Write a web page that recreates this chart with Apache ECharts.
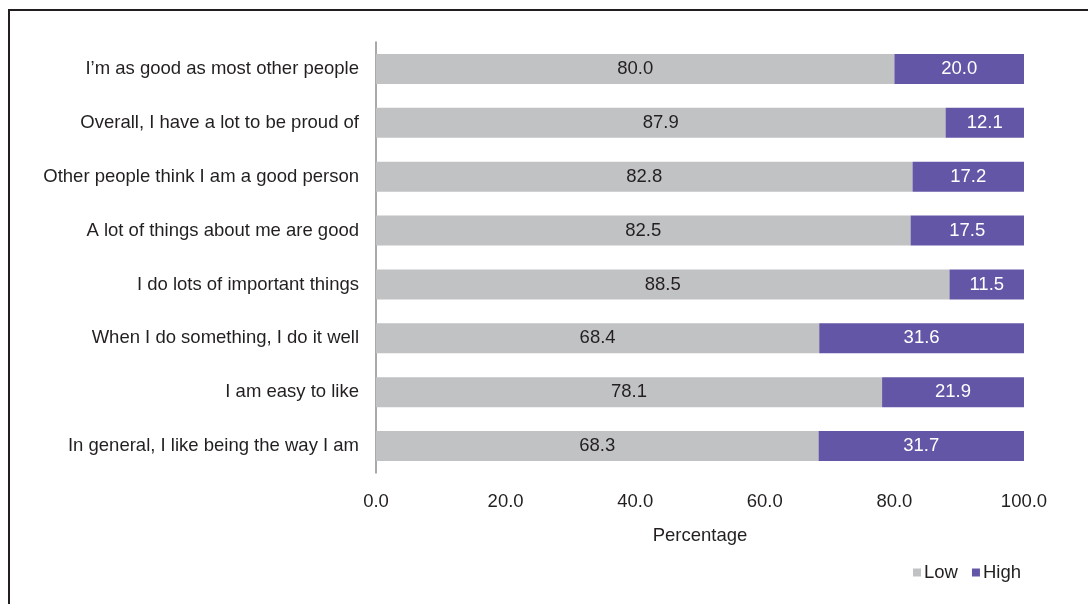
<!DOCTYPE html>
<html>
<head>
<meta charset="utf-8">
<script src="https://cdn.jsdelivr.net/npm/echarts@6/dist/echarts.min.js"></script>
<style>
  html, body { margin: 0; padding: 0; background: #fff; }
  #chart { width: 1088px; height: 604px; }
</style>
</head>
<body>
<div id="chart"></div>
<script>
// Self-esteem statements, listed bottom to top as the category axis draws them
const categories = [
  'In general, I like being the way I am',
  'I am easy to like',
  'When I do something, I do it well',
  'I do lots of important things',
  'A lot of things about me are good',
  'Other people think I am a good person',
  'Overall, I have a lot to be proud of',
  'I\u2019m as good as most other people'
];
const lowValues  = [68.3, 78.1, 68.4, 88.5, 82.5, 82.8, 87.9, 80.0];
const highValues = [31.7, 21.9, 31.6, 11.5, 17.5, 17.2, 12.1, 20.0];
const xTicks = [0, 20, 40, 60, 80, 100];

const FONT = '"Liberation Sans", Arial, sans-serif';
const SIZE = 18.5;
const INK = '#231f20';
const chart = echarts.init(document.getElementById('chart'), null, { renderer: 'canvas' });

chart.setOption({
  backgroundColor: '#ffffff',
  animation: false,
  textStyle: { fontFamily: FONT },
  graphic: [{
    type: 'polyline',
    shape: { points: [[9, 604], [9, 10], [1088, 10]] },
    style: { stroke: INK, lineWidth: 2, fill: null }
  }],
  legend: {
    right: 62,
    bottom: 17,
    itemWidth: 8,
    itemHeight: 8,
    itemGap: 14,
    icon: 'rect',
    textStyle: { fontFamily: FONT, fontSize: SIZE, color: INK, padding: [0, 0, 0, -2] },
    data: ['Low', 'High']
  },
  grid: { left: 376, right: 64, top: 42, height: 431, containLabel: false },
  xAxis: {
    type: 'value',
    min: xTicks[0],
    max: xTicks[xTicks.length - 1],
    interval: 20,
    name: 'Percentage',
    nameLocation: 'middle',
    nameGap: 53,
    nameTextStyle: { fontFamily: FONT, fontSize: SIZE, color: INK },
    axisLine: { show: false },
    axisTick: { show: false },
    splitLine: { show: false },
    axisLabel: {
      margin: 19,
      fontFamily: FONT,
      fontSize: SIZE,
      color: INK,
      formatter: v => v.toFixed(1)
    }
  },
  yAxis: {
    type: 'category',
    data: categories,
    axisLine: { show: true, lineStyle: { color: '#8c8c8c', width: 1.5 } },
    axisTick: { show: false },
    axisLabel: { margin: 17, padding: [3, 0, 0, 0], fontFamily: FONT, fontSize: SIZE, color: INK }
  },
  series: [
    {
      name: 'Low',
      type: 'bar',
      stack: 'total',
      barWidth: 30,
      data: lowValues,
      itemStyle: { color: '#c1c2c4' },
      label: {
        show: true,
        position: 'inside',
        fontFamily: FONT,
        fontSize: SIZE,
        color: INK,
        formatter: p => p.value.toFixed(1)
      }
    },
    {
      name: 'High',
      type: 'bar',
      stack: 'total',
      barWidth: 30,
      data: highValues,
      itemStyle: { color: '#6456a6' },
      label: {
        show: true,
        position: 'inside',
        fontFamily: FONT,
        fontSize: SIZE,
        color: '#ffffff',
        formatter: p => p.value.toFixed(1)
      }
    }
  ]
});
</script>
</body>
</html>
